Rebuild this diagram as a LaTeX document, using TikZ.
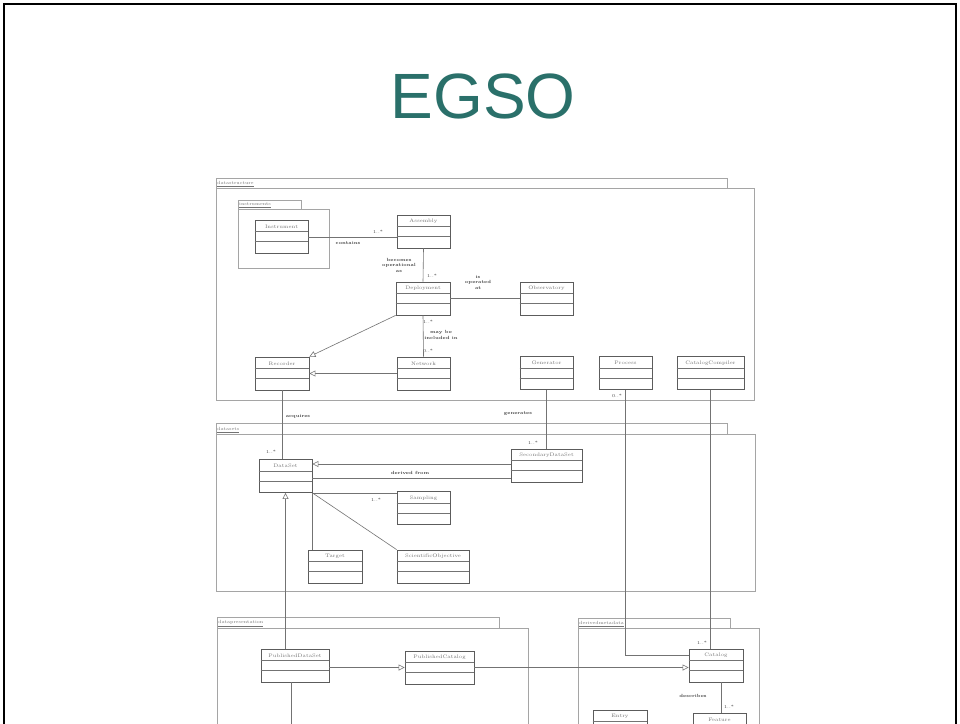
\documentclass[tikz,border=0pt]{standalone}
\usepackage{fontspec}
\newfontfamily\titlefont{Liberation Sans}
\usetikzlibrary{arrows.meta}
\definecolor{egsoteal}{RGB}{42,112,106}
\definecolor{umlgray}{RGB}{115,115,115}
\definecolor{pkggray}{RGB}{165,165,165}
\tikzset{
  classbox/.style={draw=umlgray!80!black, line width=0.8pt, minimum height=33pt, inner sep=0pt},
  classname/.style={font=\fontsize{5}{6}\selectfont, text=umlgray, inner sep=0pt},
  umlline/.style={draw=umlgray, line width=0.6pt},
  pkgline/.style={draw=pkggray, line width=0.9pt},
  pkglabel/.style={anchor=south west, font=\fontsize{4.5}{5}\selectfont, text=umlgray, inner sep=1pt},
  assoc/.style={font=\fontsize{4.5}{5.5}\selectfont\bfseries, text=black!75, align=center, inner sep=0pt},
  mult/.style={font=\fontsize{4.5}{5}\selectfont, text=black!75, inner sep=0pt},
  genarrow/.style={umlline, -{Triangle[open, length=6pt, width=6pt, fill=white]}}
}
\newcommand{\umlclass}[4]{%
  \node[classbox, minimum width=#3] (#1) at #2 {};
  \node[classname] (#1-name) at ([yshift=-7pt]#1.north) {#4};
  \draw[umlline] ([yshift=-12pt]#1.north west) -- ([yshift=-12pt]#1.north east);
  \draw[umlline] ([yshift=-22pt]#1.north west) -- ([yshift=-22pt]#1.north east);
}
\newcommand{\umlpackage}[8]{%
  \draw[pkgline] (#2,#3) rectangle (#4,#5);
  \draw[pkgline] (#2,#5) rectangle (#6,#7);
  \node[pkglabel] (#1) at (#2,#5) {\underline{#8}};
}
\begin{document}
\begin{tikzpicture}[x=1pt, y=-1pt]
\useasboundingbox (0,0) rectangle (960,723);
\clip (0,0) rectangle (960,723);
\fill[white] (0,0) rectangle (960,723);
\draw[line width=2.5pt] (4,780) -- (4,4) -- (956,4) -- (956,780);
\node[font=\titlefont\fontsize{64}{70}\selectfont, text=egsoteal, anchor=base] (title) at (483,118) {EGSO};

\umlpackage{datastructure}{216}{178}{727}{188}{754}{400}{datastructure}
\umlpackage{instruments}{238}{200}{301}{209}{329}{268}{instruments}
\umlpackage{datasets}{216}{423}{727}{434}{755}{591}{datasets}
\umlpackage{datapresentation}{217}{617}{499}{628}{528}{800}{datapresentation}
\umlpackage{derivedmetadata}{578}{618}{730}{628}{759}{800}{derivedmetadata}

\umlclass{instrument}{(281.5,236.5)}{53}{Instrument}
\umlclass{assembly}{(423.5,231.5)}{53}{Assembly}
\umlclass{deployment}{(423,298.5)}{54}{Deployment}
\umlclass{observatory}{(546.5,298.5)}{53}{Observatory}
\umlclass{recorder}{(282,373.5)}{54}{Recorder}
\umlclass{network}{(423.5,373.5)}{53}{Network}
\umlclass{generator}{(546.5,373)}{53}{Generator}
\umlclass{process}{(625.5,373)}{53}{Process}
\umlclass{compiler}{(710.5,373)}{67}{CatalogCompiler}
\umlclass{secondary}{(546.5,465.5)}{71}{SecondaryDataSet}
\umlclass{dataset}{(285.5,476)}{53}{DataSet}
\umlclass{sampling}{(423.5,508)}{53}{Sampling}
\umlclass{target}{(335,566.5)}{54}{Target}
\umlclass{objective}{(433,566.5)}{72}{ScientificObjective}
\umlclass{pubdataset}{(295,665.5)}{68}{PublishedDataSet}
\umlclass{pubcatalog}{(439.5,667.5)}{69}{PublishedCatalog}
\umlclass{catalog}{(716,665.5)}{54}{Catalog}
\umlclass{entry}{(620,726.5)}{54}{Entry}
\umlclass{feature}{(719.5,729.5)}{53}{Feature}

\coordinate (pubout) at (291,760);

\draw[umlline] ([yshift=-0.5pt]instrument.east) -- ([yshift=-0.5pt]instrument.east -| assembly.west);
\draw[umlline] (assembly.south) -- (deployment.north);
\draw[umlline] (deployment.east) -- (observatory.west);
\draw[umlline] (deployment.south) -- (network.north);
\draw[genarrow] (deployment.south west) -- (recorder.north east);
\draw[genarrow] (network.west) -- (recorder.east);
\draw[umlline] (recorder.south) -- (recorder.south |- dataset.north);
\draw[umlline] (generator.south) -- (secondary.north);
\draw[umlline] (process.south) |- ([yshift=-7pt]catalog.north west);
\draw[umlline] (compiler.south) -- (compiler.south |- catalog.north);
\draw[genarrow] ([yshift=1.5pt]secondary.west) -- ([yshift=1.5pt]secondary.west -| dataset.east);
\draw[umlline] ([yshift=-12.5pt]secondary.west) -- ([yshift=-12.5pt]secondary.west -| dataset.east);
\draw[umlline] (dataset.south east) -- (dataset.south east -| sampling.west);
\draw[umlline] (dataset.south east) -- (dataset.south east |- target.north);
\draw[umlline] (dataset.south east) -- (objective.north west);
\draw[genarrow] (pubdataset.north -| dataset.south) -- (dataset.south);
\draw[umlline] ([xshift=-4pt]pubdataset.south) -- (pubout);
\draw[genarrow] (pubdataset.east |- pubcatalog.west) -- (pubcatalog.west);
\draw[genarrow] (pubcatalog.east) -- (pubcatalog.east -| catalog.west);
\draw[umlline] ([xshift=5pt]catalog.south) -- ([xshift=5pt]catalog.south |- feature.north);

\node[assoc] (contains) at (348,243) {contains};
\node[mult] (m1) at (378,232) {1..*};
\node[assoc] (becomes) at (399,265) {becomes\\operational\\as};
\node[mult] (m2) at (432,276) {1..*};
\node[assoc] (operated) at (478,282) {is\\operated\\at};
\node[mult] (m3) at (428,322) {1..*};
\node[assoc] (included) at (441,335) {may be\\included in};
\node[mult] (m4) at (428,351) {0..*};
\node[assoc] (acquires) at (298,416) {acquires};
\node[assoc] (generates) at (518,414) {generates};
\node[mult] (m5) at (617,396) {0..*};
\node[mult] (m6) at (533,443) {1..*};
\node[mult] (m7) at (271,452) {1..*};
\node[assoc] (derived) at (410,473) {derived from};
\node[mult] (m8) at (376,500) {1..*};
\node[mult] (m9) at (702,643) {1..*};
\node[assoc] (describes) at (693,696) {describes};
\node[mult] (m10) at (729,707) {1..*};
\end{tikzpicture}
\end{document}
